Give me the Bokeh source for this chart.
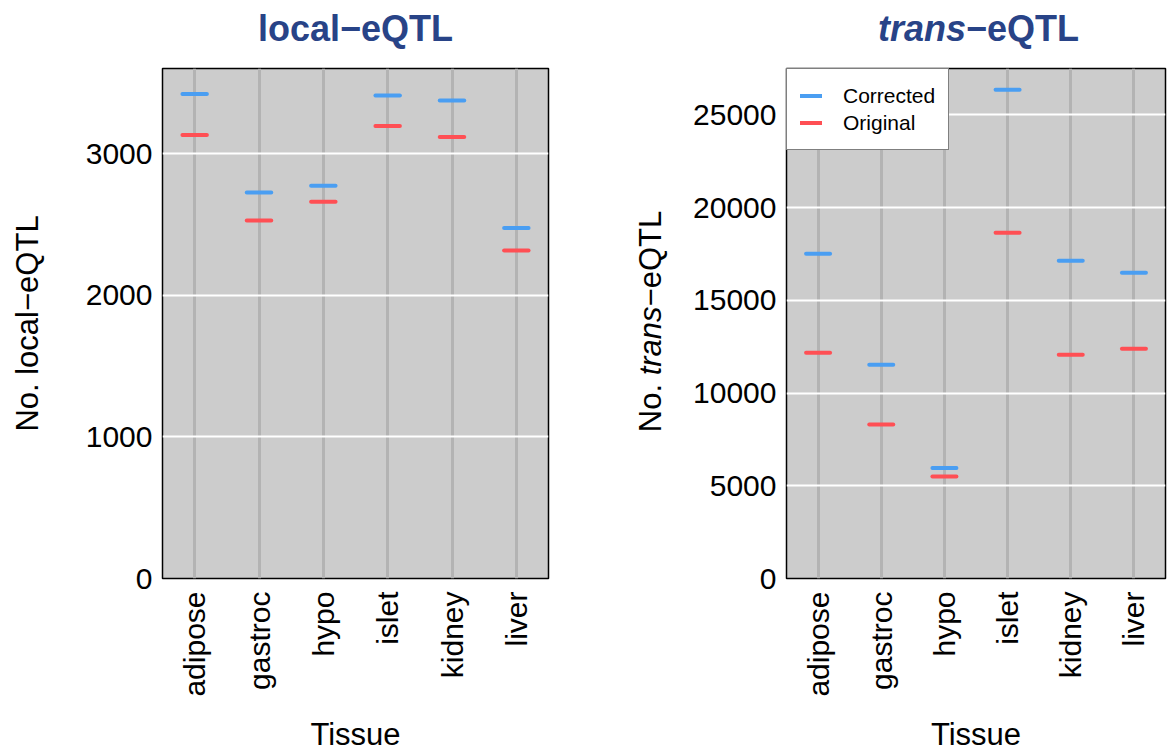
import math
from bokeh.plotting import figure
from bokeh.layouts import row, column
from bokeh.models import (ColumnDataSource, FactorRange, Range1d, FixedTicker,
                          Label, Legend, LegendItem)
from bokeh.transform import dodge
from bokeh.embed import file_html
from bokeh.resources import INLINE

# ---------------- data ----------------
tissues = ["adipose", "gastroc", "hypo", "islet", "kidney", "liver"]
local_corrected = [3420, 2725, 2772, 3410, 3375, 2475]
local_original = [3130, 2527, 2660, 3195, 3117, 2315]
trans_corrected = [17510, 11530, 5964, 26350, 17134, 16487]
trans_original = [12177, 8300, 5496, 18642, 12069, 12392]
local_ticks = [0, 1000, 2000, 3000]
trans_ticks = [0, 5000, 10000, 15000, 20000, 25000]
local_max = 3600
trans_max = 27500

# ---------------- style / layout ----------------
FONT = "Liberation Sans"
BLUE = "#4A9EF2"
RED = "#FF4F54"
TITLE_C = "#284387"
BG = "#CCCCCC"
VGRID = "#B3B3B3"
TOTAL_H = 755
TITLE_H = 66          # height of the title strip
MAIN_H = TOTAL_H - TITLE_H
TOP = 2               # frame starts 2px under the title strip
FRAME_H = 510
BOTTOM = MAIN_H - TOP - FRAME_H
AX_FS = 31            # axis title font size (px)
TI_FS = 36            # panel title font size (px)


def text_strip(width, height, top=0, bottom=0):
    """A blank svg figure used only to hold text (titles / axis titles).
    Its y coordinates are pixels measured up from the bottom of its frame."""
    f = figure(width=width, height=height, x_range=Range1d(0, width),
               y_range=Range1d(0, height - top - bottom), x_axis_location=None,
               y_axis_location=None, min_border_left=0, min_border_right=0,
               min_border_top=top, min_border_bottom=bottom,
               toolbar_location=None, output_backend="svg")
    f.grid.visible = False
    f.outline_line_color = None
    f.background_fill_color = "white"
    f.border_fill_color = "white"
    return f


def make_panel(corr, orig, ticks, ymax, width, left, right):
    src = ColumnDataSource(dict(tissue=tissues, corr=corr, orig=orig))
    p = figure(x_range=FactorRange(factors=tissues), y_range=Range1d(0, ymax),
               width=width, height=MAIN_H, min_border_left=left,
               min_border_right=right, min_border_top=TOP,
               min_border_bottom=BOTTOM,
               toolbar_location=None, output_backend="svg")
    p.background_fill_color = BG
    p.border_fill_color = "white"
    p.outline_line_color = "black"
    p.outline_line_width = 1.5

    p.ygrid.grid_line_color = "white"
    p.ygrid.grid_line_width = 2
    p.xgrid.grid_line_color = VGRID
    p.xgrid.grid_line_width = 3

    p.yaxis.ticker = FixedTicker(ticks=ticks)
    for ax in (p.xaxis[0], p.yaxis[0]):
        ax.axis_line_color = None
        ax.major_tick_line_color = None
        ax.minor_tick_line_color = None
        ax.major_tick_out = 0
        ax.major_tick_in = 0
        ax.major_label_text_font = FONT
        ax.major_label_text_font_size = "30px"
        ax.major_label_text_color = "black"
    p.yaxis.major_label_standoff = 10
    p.xaxis.major_label_standoff = 13
    p.xaxis.major_label_orientation = math.pi / 2
    p.xaxis.axis_label = "Tissue"
    p.xaxis.axis_label_text_font = FONT
    p.xaxis.axis_label_text_font_size = f"{AX_FS}px"
    p.xaxis.axis_label_text_font_style = "normal"
    p.xaxis.axis_label_text_color = "black"
    p.xaxis.axis_label_standoff = 17

    r1 = p.segment(x0=dodge("tissue", -0.19, range=p.x_range), y0="corr",
                   x1=dodge("tissue", 0.19, range=p.x_range), y1="corr",
                   source=src, line_color=BLUE, line_width=4, line_cap="round")
    r2 = p.segment(x0=dodge("tissue", -0.19, range=p.x_range), y0="orig",
                   x1=dodge("tissue", 0.19, range=p.x_range), y1="orig",
                   source=src, line_color=RED, line_width=4, line_cap="round")
    return p, r1, r2


def add_text(f, x, y, text, size, style="normal", color="black", align="left",
             baseline="alphabetic", angle=0.0):
    f.add_layout(Label(x=x, y=y, text=text, text_font=FONT, text_font_size=f"{size}px",
                       text_font_style=style, text_color=color, text_align=align,
                       text_baseline=baseline, angle=angle))


FRAME_MID = FRAME_H / 2
TITLE_BASE = TITLE_H - 40 + 12   # puts the title baseline ~40px below page top

# ---------------- left panel ----------------
L_YLAB_W = 60
p1, _, _ = make_panel(local_corrected, local_original, local_ticks, local_max,
                      width=490, left=102, right=2)
t1 = text_strip(550, TITLE_H)
add_text(t1, 355, TITLE_BASE, "local\u2212eQTL", TI_FS, style="bold",
         color=TITLE_C, align="center")
y1 = text_strip(L_YLAB_W, MAIN_H, top=TOP, bottom=BOTTOM)
add_text(y1, 27, FRAME_MID, "No. local\u2212eQTL", AX_FS, align="center",
         baseline="middle", angle=math.pi / 2)
panel1 = column(t1, row(y1, p1))

# ---------------- right panel ----------------
R_YLAB_W = 120
p2, rc, ro = make_panel(trans_corrected, trans_original, trans_ticks, trans_max,
                        width=497, left=116, right=2)
t2 = text_strip(617, TITLE_H)
# "trans" (bold italic) + "-eQTL" (bold), centred as a whole at x=428
w_trans = 2.445 * TI_FS
w_rest = 3.14 * TI_FS
junction = 428 - (w_trans + w_rest) / 2 + w_trans
add_text(t2, junction, TITLE_BASE, "trans", TI_FS, style="bold italic",
         color=TITLE_C, align="right")
add_text(t2, junction, TITLE_BASE, "\u2212eQTL", TI_FS, style="bold",
         color=TITLE_C, align="left")
y2 = text_strip(R_YLAB_W, MAIN_H, top=TOP, bottom=BOTTOM)
parts = [("No. ", "normal", 1.834), ("trans", "italic", 2.223), ("\u2212eQTL", "normal", 3.085)]
total = sum(w for _, _, w in parts) * AX_FS
pos = FRAME_MID + 2 - total / 2
for txt, style, w in parts:
    add_text(y2, 100, pos, txt.strip(), AX_FS, style=style, align="left",
             baseline="middle", angle=math.pi / 2)
    pos += w * AX_FS

legend = Legend(items=[LegendItem(label="Corrected", renderers=[rc]),
                       LegendItem(label="Original", renderers=[ro])],
                location="top_left", margin=0, padding=13, spacing=0,
                glyph_width=22, glyph_height=27, label_height=27,
                label_standoff=21, label_text_font=FONT,
                label_text_font_size="21px", label_text_color="black",
                border_line_color="black", border_line_width=1.5,
                background_fill_color="white", background_fill_alpha=1.0)
p2.add_layout(legend)
panel2 = column(t2, row(y2, p2))

layout = row(panel1, panel2)
open("out.html", "w").write(file_html(layout, INLINE))
